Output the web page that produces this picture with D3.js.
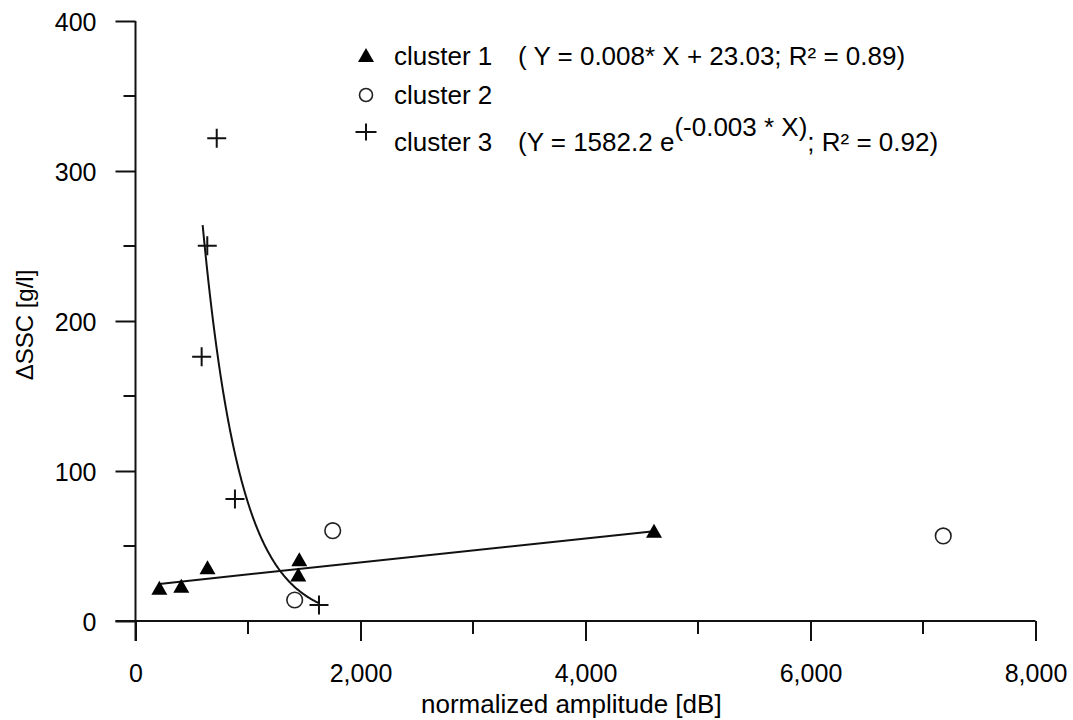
<!DOCTYPE html>
<html>
<head>
<meta charset="utf-8">
<script src="https://cdn.jsdelivr.net/npm/d3@7"></script>
<style>
  html, body { margin: 0; padding: 0; background: #fff; }
  svg text { font-family: "Liberation Sans", Arial, sans-serif; fill: #000; }
</style>
</head>
<body>
<svg id="chart" width="1073" height="720"></svg>
<script>
// Cluster 1 (filled triangles)
const cluster1X = [212, 407, 640, 1447, 1456, 4609];
const cluster1Y = [22.1, 23.5, 35.8, 31.0, 41.1, 60.2];
// Cluster 2 (open circles)
const cluster2X = [1415, 1753, 7180];
const cluster2Y = [14.0, 60.2, 56.7];
// Cluster 3 (crosses)
const cluster3X = [588, 638, 722, 884, 1631];
const cluster3Y = [176.2, 250.2, 321.8, 81.3, 10.7];

// Fit parameters as given in the legend
const linSlope = 0.008, linIntercept = 23.03;
const expA = 1582.2, expK = -0.003;
const expRange = [597, 1631];

// Axis ticks
const xMajorTicks = [0, 2000, 4000, 6000, 8000];
const xMinorTicks = [1000, 3000, 5000, 7000];
const yMajorTicks = [0, 100, 200, 300, 400];
const yMinorTicks = [50, 150, 250, 350];

const svg = d3.select("#chart");
const x = d3.scaleLinear().domain([0, 8000]).range([135.5, 1035.5]);
const y = d3.scaleLinear().domain([0, 400]).range([621, 21]);

const axisColor = "#111";
const fmt = d3.format(",");
const tickFont = "25px";

// X axis
const gx = svg.append("g").attr("transform", `translate(0,${y(0)})`);
gx.call(d3.axisBottom(x).tickValues(xMajorTicks).tickSize(20).tickSizeOuter(0).tickFormat(fmt));
gx.select(".domain").attr("stroke", axisColor).attr("stroke-width", 2)
  .attr("d", `M${x(0) - 20},0H${x(8000)}`);
gx.selectAll(".tick line").attr("stroke", axisColor).attr("stroke-width", 2);
gx.selectAll(".tick text").attr("y", 61).attr("dy", null)
  .style("font-size", tickFont).style("font-family", "Liberation Sans, Arial, sans-serif").attr("fill", "#000");
gx.selectAll(".minor").data(xMinorTicks).enter().append("line")
  .attr("class", "minor")
  .attr("x1", d => x(d)).attr("x2", d => x(d)).attr("y1", 0).attr("y2", 13)
  .attr("stroke", axisColor).attr("stroke-width", 2);

// Y axis
const gy = svg.append("g").attr("transform", `translate(${x(0)},0)`);
gy.call(d3.axisLeft(y).tickValues(yMajorTicks).tickSize(20).tickSizeOuter(0));
gy.select(".domain").attr("stroke", axisColor).attr("stroke-width", 2)
  .attr("d", `M0,${y(400)}V${y(0) + 20}`);
gy.selectAll(".tick line").attr("stroke", axisColor).attr("stroke-width", 2);
gy.selectAll(".tick text").attr("x", -39).attr("dy", "0.36em")
  .style("font-size", tickFont).style("font-family", "Liberation Sans, Arial, sans-serif").attr("fill", "#000");
gy.selectAll(".minor").data(yMinorTicks).enter().append("line")
  .attr("class", "minor")
  .attr("y1", d => y(d)).attr("y2", d => y(d)).attr("x1", 0).attr("x2", -12)
  .attr("stroke", axisColor).attr("stroke-width", 2);

// Axis titles
svg.append("text")
  .attr("x", 421).attr("y", 713)
  .attr("text-anchor", "start").style("font-size", "26px")
  .text("normalized amplitude [dB]");
svg.append("text")
  .attr("transform", "translate(33,325) rotate(-90)")
  .attr("text-anchor", "middle").style("font-size", "24px")
  .text("\u0394SSC [g/l]");

// Fit curves
const linData = d3.extent(cluster1X).map(v => [v, linSlope * v + linIntercept]);
const expData = d3.range(expRange[0], expRange[1] + 1, 5).map(v => [v, expA * Math.exp(expK * v)]);
const lineGen = d3.line().x(d => x(d[0])).y(d => y(d[1]));
svg.append("path").datum(linData).attr("d", lineGen)
  .attr("fill", "none").attr("stroke", "#111").attr("stroke-width", 2);
svg.append("path").datum(expData).attr("d", lineGen)
  .attr("fill", "none").attr("stroke", "#111").attr("stroke-width", 2);

// Marker shapes
const triPath = "M0,-7L8,7L-8,7Z";
function crossPath(w, h) { return `M${-w / 2},0H${w / 2}M0,${-h / 2}V${h / 2}`; }

// Cluster 1
svg.append("g").selectAll("path").data(cluster1X.map((v, i) => [v, cluster1Y[i]])).enter()
  .append("path").attr("d", triPath)
  .attr("transform", d => `translate(${x(d[0])},${y(d[1])})`)
  .attr("fill", "#000");
// Cluster 2
svg.append("g").selectAll("circle").data(cluster2X.map((v, i) => [v, cluster2Y[i]])).enter()
  .append("circle").attr("cx", d => x(d[0])).attr("cy", d => y(d[1])).attr("r", 7.8)
  .attr("fill", "none").attr("stroke", "#222").attr("stroke-width", 1.6);
// Cluster 3
svg.append("g").selectAll("path").data(cluster3X.map((v, i) => [v, cluster3Y[i]])).enter()
  .append("path").attr("d", crossPath(19, 19))
  .attr("transform", d => `translate(${x(d[0])},${y(d[1])})`)
  .attr("fill", "none").attr("stroke", "#111").attr("stroke-width", 2);

// Legend
const leg = svg.append("g");
leg.append("path").attr("d", triPath).attr("transform", "translate(366,55)").attr("fill", "#000");
leg.append("circle").attr("cx", 366).attr("cy", 95).attr("r", 6.5)
  .attr("fill", "none").attr("stroke", "#222").attr("stroke-width", 1.6);
leg.append("path").attr("d", crossPath(21, 17)).attr("transform", "translate(366,132)")
  .attr("fill", "none").attr("stroke", "#111").attr("stroke-width", 2);

const legFont = "26px";
leg.append("text").attr("x", 394).attr("y", 65).style("font-size", legFont).text("cluster 1");
leg.append("text").attr("x", 518).attr("y", 65).style("font-size", legFont)
  .text("( Y = 0.008* X + 23.03; R\u00B2 = 0.89)");
leg.append("text").attr("x", 394).attr("y", 103.5).style("font-size", legFont).text("cluster 2");
leg.append("text").attr("x", 394).attr("y", 151).style("font-size", legFont).text("cluster 3");
const eq3 = leg.append("text").attr("x", 518).attr("y", 151).style("font-size", legFont);
eq3.append("tspan").text("(Y = 1582.2 e");
eq3.append("tspan").attr("dy", -15).text("(-0.003 * X)");
eq3.append("tspan").attr("dy", 15).text("; R\u00B2 = 0.92)");
</script>
</body>
</html>
